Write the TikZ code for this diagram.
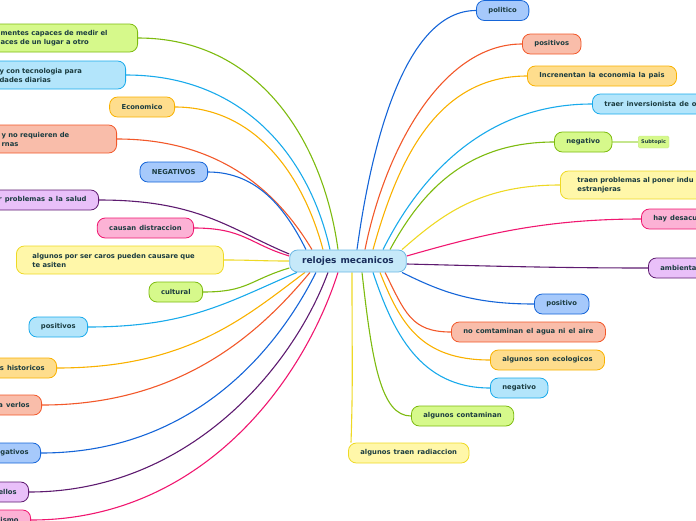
\documentclass[tikz,border=0pt]{standalone}
\usepackage{fontspec}
\setmainfont{DejaVu Sans}[WordSpace=1.3]
\usetikzlibrary{backgrounds}

\definecolor{ink}{HTML}{1B3C40}
\definecolor{rootink}{HTML}{1A2E5C}
\definecolor{rootfill}{HTML}{C6E9F9}
\definecolor{rootline}{HTML}{6BB7E3}
\definecolor{grnL}{HTML}{7DBB0F}
\definecolor{grnF}{HTML}{D6F98B}
\definecolor{bluL}{HTML}{1565D8}
\definecolor{bluF}{HTML}{A6C9FB}
\definecolor{skyL}{HTML}{19AAEB}
\definecolor{skyF}{HTML}{B3E5FB}
\definecolor{orgL}{HTML}{F9B100}
\definecolor{orgF}{HTML}{FEDD8D}
\definecolor{redL}{HTML}{F2582A}
\definecolor{redF}{HTML}{F9BDAA}
\definecolor{purL}{HTML}{5E1B70}
\definecolor{purF}{HTML}{E9C0F9}
\definecolor{pnkL}{HTML}{F01770}
\definecolor{pnkF}{HTML}{FCB2D5}
\definecolor{yelL}{HTML}{EED925}
\definecolor{yelF}{HTML}{FFF7A9}
\definecolor{subL}{HTML}{C5E68E}

\begin{document}
\begin{tikzpicture}[x=1pt, y=-1pt,
    topic/.style={draw, rounded corners=8pt, minimum height=20pt,
        inner xsep=12pt, inner ysep=0pt, line width=0.8pt, text=ink,
        font=\fontsize{6.8}{9}\selectfont\bfseries},
    twoline/.style={topic, minimum height=28pt, align=left, inner xsep=16pt},
    link/.style={line width=1.1pt},
    cgrn/.style={draw=grnL, fill=grnF},
    cblu/.style={draw=bluL, fill=bluF},
    csky/.style={draw=skyL, fill=skyF},
    corg/.style={draw=orgL, fill=orgF},
    cred/.style={draw=redL, fill=redF},
    cpur/.style={draw=purL, fill=purF},
    cpnk/.style={draw=pnkL, fill=pnkF},
    cyel/.style={draw=yelL, fill=yelF}]
    \useasboundingbox (0,0) rectangle (696,520);
    \clip (0,0) rectangle (696,520);

    % central topic
    \node[draw=rootline, fill=rootfill, rounded corners=8pt, line width=0.8pt,
        minimum height=22pt, inner xsep=12.5pt, inner ysep=0pt, text=rootink,
        font=\fontsize{9}{11}\selectfont\bfseries] (root) at (348,261) {relojes mecanicos};

    % left branches
    \node[twoline, cgrn, text width=121pt, anchor=east] (medir) at (138,38)
        {mentes capaces de medir el\\aces de un lugar a otro};
    \node[twoline, csky, text width=110pt, anchor=east] (tecno) at (126,75)
        {y con tecnologia para\\dades diarias};
    \node[topic, corg, anchor=east] (econ) at (175,107) {Economico};
    \node[twoline, cred, text width=99pt, anchor=east] (noreq) at (117,139)
        {y no requieren de\\rnas};
    \node[topic, cblu, anchor=east] (negs) at (208,172) {NEGATIVOS};
    \node[topic, cpur, anchor=east] (salud) at (99,200) {r problemas a la salud};
    \node[topic, cpnk, anchor=east] (distr) at (194,228) {causan distraccion};
    \node[twoline, cyel, text width=175pt, anchor=west] (caros) at (16,260)
        {algunos por ser caros pueden causare que\\te asiten};
    \node[topic, cgrn, anchor=east] (cult) at (203,292) {cultural};
    \node[topic, csky, anchor=east] (posl) at (88,327) {positivos};
    \node[topic, corg, anchor=east] (hist) at (57,368) {s historicos};
    \node[topic, cred, anchor=east] (verlos) at (42,405) {a verlos};
    \node[topic, cblu, anchor=east] (negl) at (41,453) {gativos};
    \node[topic, cpur, anchor=east] (ellos) at (29,492) {ellos};
    \node[topic, cpnk, anchor=east] (ismo) at (31,520) {lismo};

    % right branches
    \node[topic, cblu, anchor=west] (polit) at (476,10.5) {politico};
    \node[topic, cred, anchor=west] (posr) at (522,44) {positivos};
    \node[topic, corg, anchor=west] (econr) at (527,76) {Increnentan la economia la pais};
    \node[topic, csky, anchor=west] (inver) at (592,104) {traer inversionista de o};
    \node[topic, cgrn, anchor=west] (negr) at (554,142) {negativo};
    \node[draw=subL, fill=grnF, rounded corners=1.5pt, minimum height=12pt,
        inner xsep=3pt, inner ysep=0pt, text=ink,
        font=\fontsize{5}{6}\selectfont\bfseries, anchor=west] (subt) at (638,142) {Subtopic};
    \node[twoline, cyel, text width=200pt, inner xsep=17pt, anchor=west] (indu) at (560,185)
        {traen problemas al poner indu\\estranjeras};
    \node[topic, cpnk, anchor=west] (desac) at (641,219) {hay desacu};
    \node[topic, cpur, anchor=west] (amb) at (648,268) {ambienta};
    \node[topic, cblu, anchor=west] (posit) at (534,304) {positivo};
    \node[topic, cred, anchor=west] (agua) at (451,332) {no comtaminan el agua ni el aire};
    \node[topic, corg, anchor=west] (ecol) at (490,360) {algunos son ecologicos};
    \node[topic, csky, anchor=west] (negb) at (490,388) {negativo};
    \node[topic, cgrn, anchor=west] (conta) at (411,416) {algunos contaminan};
    \node[topic, cyel, anchor=west] (radia) at (348,453) {algunos traen radiaccion};

    \begin{scope}[on background layer]
    % connectors to the left
    \draw[link, grnL] ([xshift=-10pt]root.north) .. controls +(-15,-110) and +(120,0) .. (medir.east);
    \draw[link, skyL] ([xshift=-18pt]root.north) .. controls +(-20,-90) and +(120,0) .. (tecno.east);
    \draw[link, orgL] ([xshift=-25pt]root.north) .. controls +(-20,-75) and +(80,0) .. (econ.east);
    \draw[link, redL] ([xshift=-36pt]root.north) .. controls +(-30,-50) and +(110,0) .. (noreq.east);
    \draw[link, bluL] ([xshift=-42pt]root.north) .. controls +(-20,-40) and +(50,0) .. (negs.east);
    \draw[link, purL] ([yshift=7pt]root.west) .. controls +(-60,-25) and +(100,0) .. (salud.east);
    \draw[link, pnkL] ([yshift=5pt]root.west) .. controls +(-40,-12) and +(50,0) .. (distr.east);
    \draw[link, yelL] (root.west) .. controls +(-30,0) and +(30,0) .. (caros.east);
    \draw[link, grnL] ([yshift=-7pt]root.west) .. controls +(-40,12) and +(45,0) .. (cult.east);
    \draw[link, skyL] ([xshift=-51pt]root.south) .. controls +(-70,30) and +(100,0) .. (posl.east);
    \draw[link, orgL] ([xshift=-43pt]root.south) .. controls +(-60,45) and +(130,0) .. (hist.east);
    \draw[link, redL] ([xshift=-38pt]root.south) .. controls +(-50,60) and +(140,0) .. (verlos.east);
    \draw[link, bluL] ([xshift=-32pt]root.south) .. controls +(-40,80) and +(150,0) .. (negl.east);
    \draw[link, purL] ([xshift=-20pt]root.south) .. controls +(-35,95) and +(160,0) .. (ellos.east);
    \draw[link, pnkL] ([xshift=-10pt]root.south) .. controls +(-35,110) and +(170,0) .. (ismo.east);
    % connectors to the right
    \draw[link, bluL] ([xshift=9pt]root.north) .. controls +(15,-110) and +(-70,0) .. (polit.west);
    \draw[link, redL] ([xshift=17pt]root.north) .. controls +(20,-100) and +(-80,0) .. (posr.west);
    \draw[link, orgL] ([xshift=25pt]root.north) .. controls +(25,-90) and +(-90,0) .. (econr.west);
    \draw[link, skyL] ([xshift=35pt]root.north) .. controls +(35,-70) and +(-110,0) .. (inver.west);
    \draw[link, grnL] ([xshift=42pt]root.north) .. controls +(30,-55) and +(-90,0) .. (negr.west);
    \draw[link, subL] (negr.east) -- (subt.west);
    \draw[link, yelL] ([xshift=54pt]root.north) .. controls +(40,-35) and +(-80,0) .. (indu.west);
    \draw[link, pnkL] ([yshift=5pt]root.east) .. controls +(70,-20) and +(-100,0) .. (desac.west);
    \draw[link, purL] ([yshift=-3pt]root.east) .. controls +(80,2) and +(-90,0) .. (amb.west);
    \draw[link, bluL] ([xshift=54pt]root.south) .. controls +(40,20) and +(-60,0) .. (posit.west);
    \draw[link, redL] ([xshift=37pt]root.south) .. controls +(20,40) and +(-40,0) .. (agua.west);
    \draw[link, orgL] ([xshift=32pt]root.south) .. controls +(20,50) and +(-70,0) .. (ecol.west);
    \draw[link, skyL] ([xshift=25pt]root.south) .. controls +(20,60) and +(-70,0) .. (negb.west);
    \draw[link, grnL] ([xshift=14pt]root.south) .. controls +(10,90) and +(-30,0) .. (conta.west);
    \draw[link, yelL] ([xshift=4pt]root.south) .. controls +(0,90) and +(2,-60) .. ([xshift=3pt]radia.north west);
    \end{scope}
\end{tikzpicture}
\end{document}
